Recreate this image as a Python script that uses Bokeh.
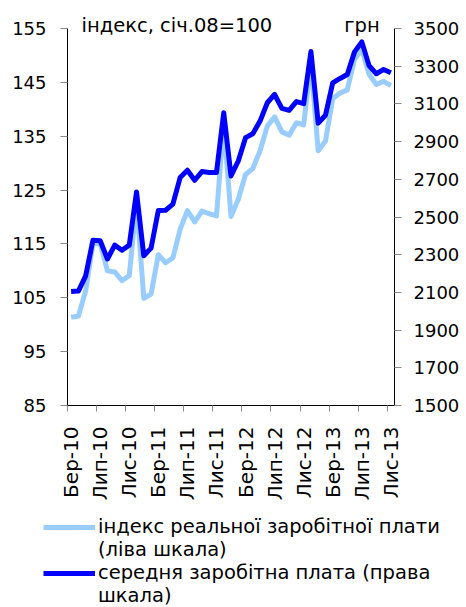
from bokeh.plotting import figure
from bokeh.models import Range1d, LinearAxis, FixedTicker, Legend, LegendItem, Title
from bokeh.layouts import column
from bokeh.embed import file_html
from bokeh.resources import INLINE
import math

month_names = ["Січ", "Лют", "Бер", "Кві", "Тра", "Чер", "Лип", "Сер", "Вер", "Жов", "Лис", "Гру"]
months = []
for yr in range(2010, 2014):
    for m in range(12):
        if (yr == 2010 and m < 2) or (yr == 2013 and m > 10):
            continue
        months.append(f"{month_names[m]}-{str(yr)[2:]}")

real_wage_index = [101.4, 101.6, 106.3, 115.0, 115.1, 110.0, 109.8, 108.2, 109.1, 123.0,
                   104.9, 105.7, 113.0, 111.5, 112.4, 117.7, 121.2, 119.1, 121.1, 120.6,
                   120.2, 137.5, 120.1, 123.3, 127.9, 129.0, 132.3, 136.9, 138.6, 135.8,
                   135.2, 137.5, 137.1, 148.7, 132.3, 134.1, 142.0, 143.0, 143.6, 149.3,
                   151.1, 146.5, 144.6, 145.2, 144.4]

avg_wage = [2105, 2107, 2188, 2377, 2374, 2277, 2351, 2324, 2351, 2633,
            2294, 2335, 2535, 2536, 2568, 2709, 2748, 2695, 2741, 2736,
            2736, 3053, 2718, 2797, 2921, 2942, 3009, 3106, 3150, 3076,
            3066, 3112, 3101, 3378, 2998, 3040, 3212, 3235, 3256, 3376,
            3429, 3303, 3260, 3283, 3265]

left_ticks = [85, 95, 105, 115, 125, 135, 145, 155]
right_ticks = [1500, 1700, 1900, 2100, 2300, 2500, 2700, 2900, 3100, 3300, 3500]

left_unit = "індекс, січ.08=100"
right_unit = "грн"
legend_labels = ["індекс реальної заробітної плати", "(ліва шкала)",
                 "середня заробітна плата (права", "шкала)"]

FONT = "DejaVu Sans"
FS = "18px"
FS_TXT = "19.5px"
FS_X = "20px"
LIGHT = "#99CCFF"
DARK = "#0000FF"
TICK = "#8a8a8a"

xs = list(range(len(months)))
n = len(months)

p = figure(width=466, height=512, output_backend="svg", toolbar_location=None,
           x_range=Range1d(-0.5, n - 0.5), y_range=Range1d(85, 155),
           min_border_left=67, min_border_right=72, min_border_top=28, min_border_bottom=107)
p.outline_line_color = None
p.xgrid.visible = False
p.ygrid.visible = False
p.background_fill_color = "white"
p.border_fill_color = "white"

p.extra_y_ranges = {"right": Range1d(1500, 3500)}

r_light = p.line(xs, real_wage_index, line_color=LIGHT, line_width=5, line_join="round")
r_dark = p.line(xs, avg_wage, line_color=DARK, line_width=5, line_join="round", y_range_name="right")

# unit texts above the frame
NB = "\u00a0"
title = Title(text=left_unit + NB * 11 + "\u2009" + right_unit, align="left", offset=14,
              text_font=FONT, text_font_size=FS_TXT, text_font_style="normal",
              text_color="black", standoff=-16)
p.add_layout(title, "above")

# x axis
label_idx = list(range(0, n, 4))
xa = p.xaxis[0]
xa.ticker = FixedTicker(ticks=label_idx, minor_ticks=[i - 0.5 for i in label_idx])
xa.major_label_overrides = {i: months[i] for i in label_idx}
xa.major_label_orientation = math.pi / 2
xa.major_tick_out = 0
xa.major_tick_in = 0
xa.minor_tick_out = 6
xa.minor_tick_in = 0
xa.minor_tick_line_color = TICK
xa.axis_line_color = "black"
xa.major_label_standoff = 15
xa.major_label_text_font = FONT
xa.major_label_text_font_size = FS_X
xa.major_label_text_color = "black"

# left axis
ya = p.yaxis[0]
ya.ticker = FixedTicker(ticks=left_ticks)
ya.major_tick_out = 7
ya.major_tick_in = 0
ya.minor_tick_out = 0
ya.minor_tick_in = 0
ya.major_tick_line_color = TICK
ya.axis_line_color = "black"
ya.major_label_standoff = 14
ya.major_label_text_font = FONT
ya.major_label_text_font_size = FS
ya.major_label_text_color = "black"

# right axis
ra = LinearAxis(y_range_name="right", ticker=FixedTicker(ticks=right_ticks))
ra.major_tick_out = 7
ra.major_tick_in = 0
ra.minor_tick_out = 0
ra.minor_tick_in = 0
ra.major_tick_line_color = TICK
ra.axis_line_color = "black"
ra.major_label_standoff = 12
ra.major_label_text_font = FONT
ra.major_label_text_font_size = FS
ra.major_label_text_color = "black"
p.add_layout(ra, "right")

# legend figure below the chart (series drawn outside its view; only the legend shows)
LH = 95
lf = figure(width=466, height=LH, output_backend="svg", toolbar_location=None,
            x_range=Range1d(0, 1), y_range=Range1d(0, 1),
            x_axis_location=None, y_axis_location=None,
            min_border_left=0, min_border_right=0, min_border_top=0, min_border_bottom=0)
lf.frame_align = False
lf.outline_line_color = None
lf.xgrid.visible = False
lf.ygrid.visible = False
lf.background_fill_color = "white"
lf.border_fill_color = "white"

g_light = lf.line(xs, real_wage_index, line_color=LIGHT, line_width=5)
g_blank1 = lf.line(xs, real_wage_index, line_alpha=0, line_width=5)
g_dark = lf.line(xs, avg_wage, line_color=DARK, line_width=5)
g_blank2 = lf.line(xs, avg_wage, line_alpha=0, line_width=5)
legend = Legend(items=[
    LegendItem(label=legend_labels[0], renderers=[g_light]),
    LegendItem(label=legend_labels[1], renderers=[g_blank1]),
    LegendItem(label=legend_labels[2], renderers=[g_dark]),
    LegendItem(label=legend_labels[3], renderers=[g_blank2]),
], location=(43, 0))
legend.label_text_font = FONT
legend.label_text_font_size = FS_TXT
legend.label_text_color = "black"
legend.glyph_width = 52
legend.glyph_height = 20
legend.label_standoff = 3
legend.label_height = 20
legend.spacing = 0
legend.padding = 0
legend.margin = 0
legend.border_line_color = None
legend.background_fill_alpha = 0
lf.add_layout(legend, "center")

layout = column(p, lf, spacing=0)
open("out.html", "w").write(file_html(layout, INLINE))
